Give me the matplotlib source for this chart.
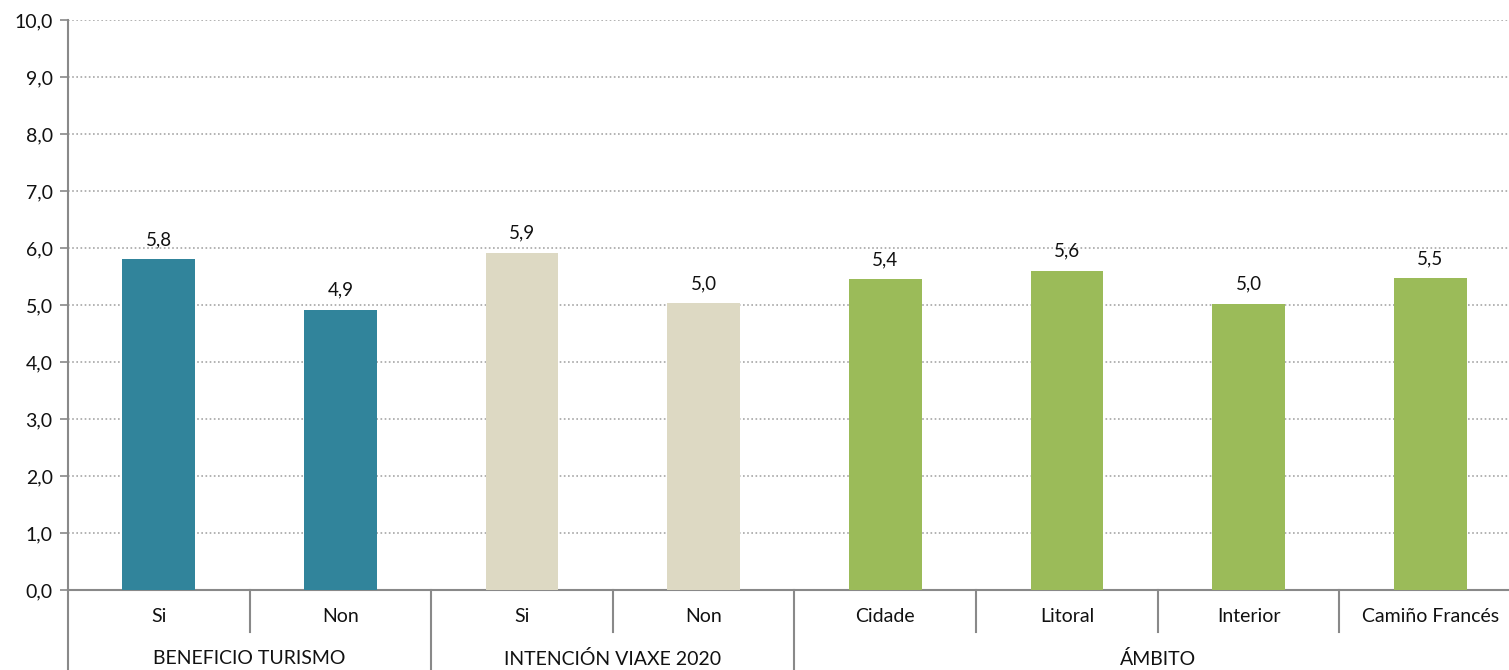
import matplotlib.pyplot as plt
from matplotlib.transforms import blended_transform_factory

categories = ["Si", "Non", "Si", "Non", "Cidade", "Litoral", "Interior", "Camiño Francés"]
values = [5.8, 4.92, 5.92, 5.03, 5.45, 5.6, 5.02, 5.47]
value_labels = ["5,8", "4,9", "5,9", "5,0", "5,4", "5,6", "5,0", "5,5"]
groups = ["BENEFICIO TURISMO", "INTENCIÓN VIAXE 2020", "ÁMBITO"]
group_sizes = [2, 2, 4]
group_colors = ["#31849B", "#DDD9C3", "#9BBB59"]

plt.rcParams['font.family'] = ['Lato', 'DejaVu Sans']
axis_gray = "#898989"
txt = "#111111"

W, H = 1509, 670
fig = plt.figure(figsize=(W / 100, H / 100), dpi=100)
# plot area runs a little past the right edge of the picture
ax = fig.add_axes([68 / W, 80 / H, 1453 / W, 570 / H])

bar_colors = []
for c, n in zip(group_colors, group_sizes):
    bar_colors += [c] * n

x = list(range(len(categories)))
bars = ax.bar(x, values, width=0.40, color=bar_colors, zorder=3)
for b, lab in zip(bars, value_labels):
    ax.annotate(lab, (b.get_x() + b.get_width() / 2, b.get_height()),
                xytext=(0, 8), textcoords="offset points",
                ha="center", va="bottom", fontsize=13.5, color=txt)

ax.set_xlim(-0.5, len(categories) - 0.5)
ax.set_ylim(0, 10)
ax.set_yticks(range(0, 11))
ax.set_yticklabels([f"{v:.1f}".replace(".", ",") for v in range(0, 11)], fontsize=14, color=txt)
ax.tick_params(axis="y", length=6, color=axis_gray, width=1.2, pad=5)
ax.set_xticks([])
ax.yaxis.grid(True, linestyle=(0, (1, 1.5)), color="#A6A6A6", linewidth=1.2)
ax.set_axisbelow(True)

for s in ["top", "right"]:
    ax.spines[s].set_visible(False)
ax.spines["left"].set_color(axis_gray)
ax.spines["left"].set_linewidth(1.5)
ax.spines["bottom"].set_color(axis_gray)
ax.spines["bottom"].set_linewidth(1.5)

trans = blended_transform_factory(ax.transData, ax.transAxes)
px = 1 / 570  # one pixel in axes units (vertical)

# left axis line extending through category area
ax.plot([-0.5, -0.5], [0, -80 * px], transform=trans, color=axis_gray, lw=1.5, clip_on=False)

# category labels and separators
for i, c in enumerate(categories):
    ax.text(i, -27 * px, c, transform=trans, ha="center", va="center", fontsize=14, color=txt)

start = 0
boundaries = set()
for g, n in zip(groups, group_sizes):
    end = start + n
    ax.text((start + end - 1) / 2, -69 * px, g, transform=trans, ha="center", va="center",
            fontsize=14, color=txt)
    boundaries.add(end - 0.5)
    for k in range(start + 1, end):
        ax.plot([k - 0.5, k - 0.5], [0, -42 * px], transform=trans, color=axis_gray, lw=1.5, clip_on=False)
    start = end
for b in sorted(boundaries):
    ax.plot([b, b], [0, -80 * px], transform=trans, color=axis_gray, lw=1.5, clip_on=False)

fig.savefig("out.png", dpi=100)
